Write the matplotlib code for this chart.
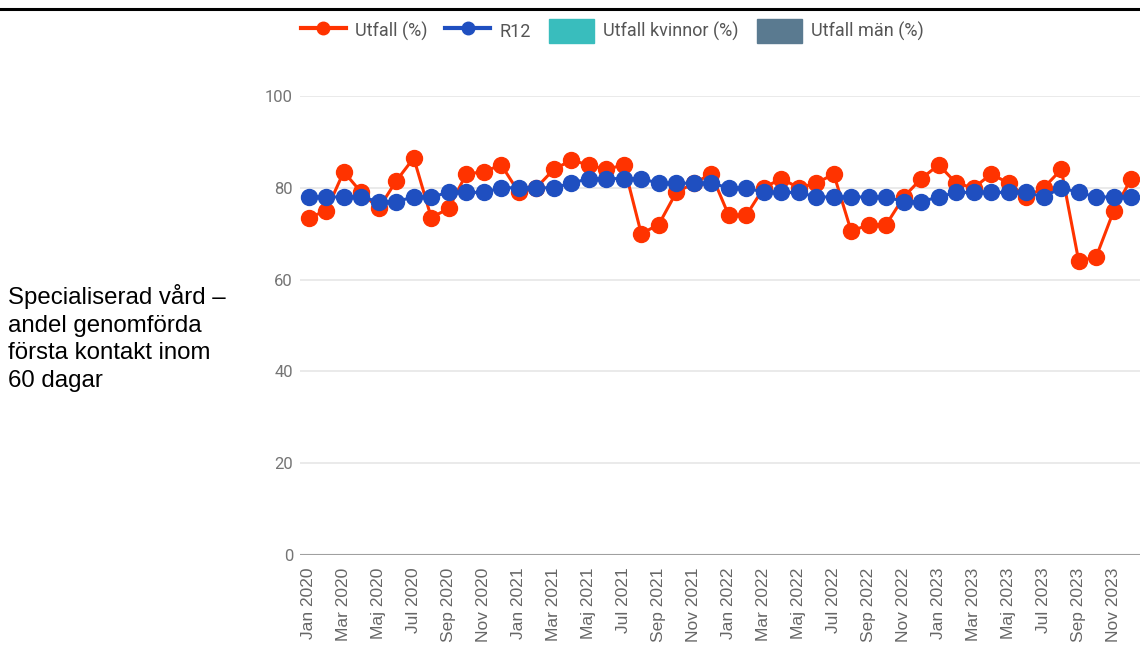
import numpy as np
import matplotlib.pyplot as plt
from matplotlib.lines import Line2D
from matplotlib.patches import Patch

# monthly labels Jan 2020 .. Dec 2023 (Swedish month names)
month_names = ['Jan', 'Feb', 'Mar', 'Apr', 'Maj', 'Jun',
               'Jul', 'Aug', 'Sep', 'Okt', 'Nov', 'Dec']
years = [2020, 2021, 2022, 2023]
months = [f"{m} {y}" for y in years for m in month_names]

utfall = [73.5, 75, 83.5, 79, 75.5, 81.5, 86.5, 73.5, 75.5, 83, 83.5, 85,
          79, 80, 84, 86, 85, 84, 85, 70, 72, 79, 81, 83,
          74, 74, 80, 82, 80, 81, 83, 70.5, 72, 72, 78, 82,
          85, 81, 80, 83, 81, 78, 80, 84, 64, 65, 75, 82]
r12 = [78, 78, 78, 78, 77, 77, 78, 78, 79, 79, 79, 80,
       80, 80, 80, 81, 82, 82, 82, 82, 81, 81, 81, 81,
       80, 80, 79, 79, 79, 78, 78, 78, 78, 78, 77, 77,
       78, 79, 79, 79, 79, 79, 78, 80, 79, 78, 78, 78]
yticks = [0, 20, 40, 60, 80, 100]

RED = '#ff3300'
BLUE = '#1f4fc0'
TEAL = '#39bdbd'
SLATE = '#5a7a90'

fig = plt.figure(figsize=(11.4, 6.55), dpi=100)
fig.patch.set_facecolor('white')

# black rule at top
fig.add_artist(Line2D([0, 1], [1 - 9/655, 1 - 9/655], transform=fig.transFigure,
                      color='black', linewidth=2.2))

ax = fig.add_axes([300/1140, 1 - 555/655, 840/1140, 459/655])
x = np.arange(len(months))

ax.plot(x, utfall, color=RED, linewidth=2.2, marker='o', markersize=11.5,
        clip_on=False, zorder=3)
ax.plot(x, r12, color=BLUE, linewidth=2.2, marker='o', markersize=11.5,
        clip_on=False, zorder=4)

ax.set_xlim(-0.5, len(months) - 0.5)
ax.set_ylim(0, 100)
ax.set_yticks(yticks)
ax.set_yticklabels([str(v) for v in yticks], fontsize=12, color='#757575',
                   family='Roboto')
ax.tick_params(axis='y', length=0, pad=5)
ax.set_xticks(x[::2])
ax.set_xticklabels(months[::2], rotation=90, fontsize=12.5, color='#666666',
                   family='Liberation Sans')
ax.tick_params(axis='x', length=0, pad=9)

ax.grid(axis='y', color='#e6e6e6', linewidth=1.2, zorder=0)
ax.set_axisbelow(True)
for s in ax.spines.values():
    s.set_visible(False)
ax.axhline(0, color='#a0a0a0', linewidth=1.5, zorder=1)

# row label at the left
fig.text(8/1140, 1 - 338/655,
         "Specialiserad vård –\nandel genomförda\nförsta kontakt inom\n60 dagar",
         ha='left', va='center', fontsize=17.3, family='Liberation Sans',
         color='black', linespacing=1.35)

handles = [
    Line2D([], [], color=RED, linewidth=3, marker='o', markersize=9),
    Line2D([], [], color=BLUE, linewidth=3, marker='o', markersize=9),
    Patch(facecolor=TEAL, edgecolor=TEAL),
    Patch(facecolor=SLATE, edgecolor=SLATE),
]
labels = ['Utfall (%)', 'R12', 'Utfall kvinnor (%)', 'Utfall män (%)']
fig.legend(handles, labels, loc='center', bbox_to_anchor=(612/1140, 1 - 31/655),
           ncol=4, frameon=False, handlelength=2.5, handleheight=1.6,
           handletextpad=0.5, columnspacing=1.0,
           prop={'family': 'Roboto', 'size': 13}, labelcolor='#555555')

fig.savefig('out.png', dpi=100, facecolor='white')
